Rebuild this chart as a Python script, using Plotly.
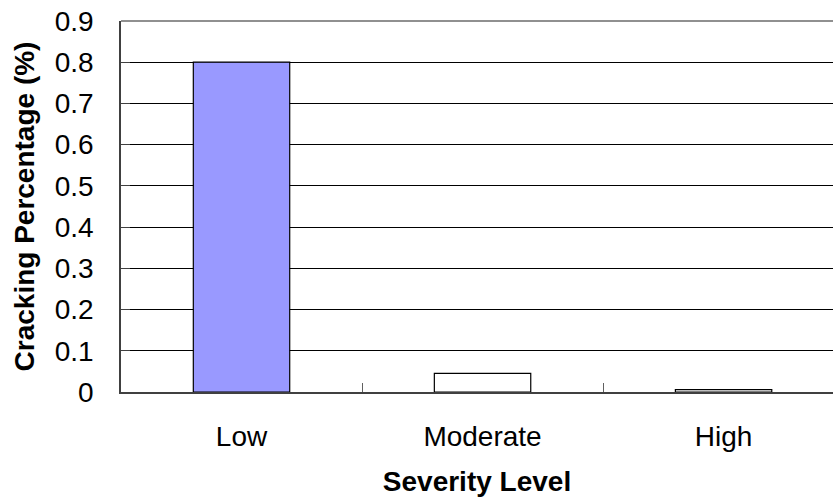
import plotly.graph_objects as go

# Cracking percentage by severity level
severity = ["Low", "Moderate", "High"]
cracking_pct = [0.80, 0.045, 0.006]
bar_fill = ["#9999FF", "#FFFFFF", "#FFFFFF"]

fig = go.Figure(
    go.Bar(
        x=severity,
        y=cracking_pct,
        width=0.4,
        marker=dict(color=bar_fill, line=dict(color="#000000", width=1.2)),
    )
)

font = "Liberation Sans, Arial, sans-serif"
fig.update_layout(
    width=833,
    height=500,
    margin=dict(l=121, r=0, t=21, b=108),
    paper_bgcolor="white",
    plot_bgcolor="white",
    showlegend=False,
    font=dict(family=font, size=28, color="#000000"),
    xaxis=dict(
        range=[-0.5, 2.454],
        showgrid=False,
        showline=True,
        linecolor="#404040",
        linewidth=1.5,
        ticks="inside",
        tickson="boundaries",
        ticklen=9,
        tickcolor="#606060",
        tickfont=dict(size=28),
        ticklabelstandoff=19,
        title=dict(text="<b>Severity Level</b>", font=dict(size=28), standoff=20),
    ),
    yaxis=dict(
        range=[0, 0.9],
        dtick=0.1,
        tickformat=".1~f",
        showgrid=True,
        gridcolor="#000000",
        gridwidth=1,
        showline=True,
        linecolor="#404040",
        linewidth=1.5,
        mirror=False,
        ticks="inside",
        ticklen=9,
        tickcolor="#404040",
        tickfont=dict(size=28),
        ticklabelstandoff=20,
        zeroline=False,
        title=dict(text="<b>Cracking Percentage (%)</b>", font=dict(size=28), standoff=12),
    ),
)

# Grey frame line along the top of the plot area
fig.add_shape(
    type="line", xref="paper", yref="paper", x0=0, x1=1, y0=1, y1=1,
    line=dict(color="#909090", width=2),
)

fig.write_html("out.html")
